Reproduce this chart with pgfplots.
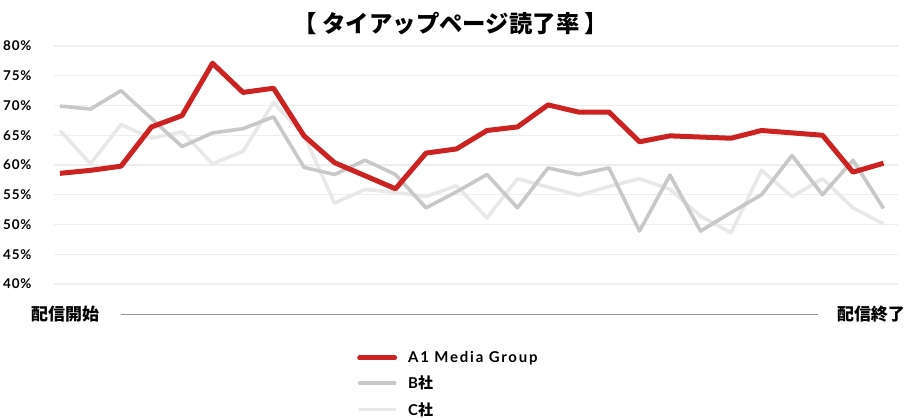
\documentclass[border=0pt]{standalone}
\usepackage{fontspec}
\usepackage{pgfplots}
\pgfplotsset{compat=1.18}
\setmainfont{Lato}
\newfontfamily\jp{Noto Sans CJK JP}
\definecolor{redA}{RGB}{204,34,34}
\definecolor{grayB}{RGB}{200,200,200}
\definecolor{grayC}{RGB}{232,232,232}
\definecolor{gridc}{RGB}{238,238,238}
\definecolor{basel}{RGB}{150,150,150}
\pgfplotstableread{
i A B C
0 58.6 69.9 65.8
1 59.1 69.4 60.2
2 59.8 72.5 66.8
3 66.4 67.8 64.5
4 68.3 63.1 65.6
5 77.1 65.4 60.2
6 72.2 66.1 62.3
7 72.9 68.1 70.5
8 64.9 59.6 65.0
9 60.4 58.4 53.6
10 58.2 60.8 55.9
11 56.0 58.4 55.4
12 62.0 52.8 54.7
13 62.7 55.5 56.5
14 65.8 58.4 51.1
15 66.4 52.8 57.7
16 70.1 59.5 56.3
17 68.9 58.4 54.9
18 68.9 59.5 56.4
19 63.9 48.9 57.7
20 64.9 58.3 55.9
21 64.7 48.9 51.4
22 64.5 52.0 48.6
23 65.8 55.0 59.1
24 65.4 61.6 54.7
25 65.0 55.0 57.7
26 58.8 60.8 52.8
27 60.3 52.7 50.1
}\datatable
\begin{document}
\begin{tikzpicture}
\path[use as bounding box] (0bp,0bp) rectangle (906bp,418bp);
\begin{axis}[
  at={(54bp,134bp)}, anchor=south west,
  scale only axis, width=844bp, height=238bp,
  xmin=-0.197, xmax=27.475, ymin=40, ymax=80,
  axis line style={draw=none},
  xtick=\empty,
  ytick={40,45,...,80},
  yticklabels={40\%,45\%,50\%,55\%,60\%,65\%,70\%,75\%,80\%},
  major tick length=0pt,
  ymajorgrids,
  grid style={gridc, line width=1.4bp},
  yticklabel style={anchor=west, xshift=-51bp, inner sep=0pt,
    font=\fontsize{13.5}{13.5}\selectfont\bfseries\addfontfeatures{LetterSpace=6}},
  clip=false,
  reverse legend,
  legend cell align=left,
  legend style={at={(axis description cs:0.359,-0.283)}, anchor=north west,
    draw=none, fill=none, inner sep=0pt, row sep=12bp, column sep=11bp,
    nodes={inner sep=0pt},
    font=\fontsize{15}{15}\selectfont\bfseries\addfontfeatures{LetterSpace=12}},
  legend image code/.code={\draw[#1, line cap=round] (0bp,0bp) -- (35bp,0bp);},
]
\addplot[grayC, line width=3.6bp, line join=round] table[x=i, y=C] {\datatable};
\addlegendentry{C{\jp\bfseries 社}}
\addplot[grayB, line width=3.6bp, line join=round] table[x=i, y=B] {\datatable};
\addlegendentry{B{\jp\bfseries 社}}
\addplot[redA, line width=5bp, line join=round] table[x=i, y=A] {\datatable};
\addlegendentry{A1 Media Group}
\end{axis}
\node[font=\jp\bfseries\fontsize{23.5}{23.5}\selectfont] at (451bp,394bp) {【 タイアップページ読了率 】};
\node[font=\jp\bfseries\fontsize{17}{17}\selectfont, anchor=west, inner sep=0pt] at (31bp,104bp) {配信開始};
\node[font=\jp\bfseries\fontsize{17}{17}\selectfont, anchor=east, inner sep=0pt] at (905bp,104bp) {配信終了};
\draw[basel, line width=0.8bp] (121bp,104bp) -- (818bp,104bp);
\end{tikzpicture}
\end{document}
